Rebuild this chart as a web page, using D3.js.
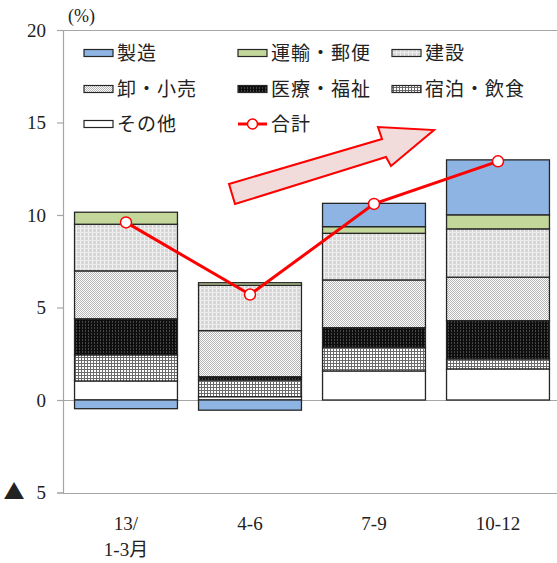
<!DOCTYPE html>
<html>
<head>
<meta charset="utf-8">
<script src="https://cdn.jsdelivr.net/npm/d3@7"></script>
<style>
  html, body { margin: 0; padding: 0; background: #fff; }
  svg { display: block; }
  text { font-family: "Liberation Serif", "Noto Sans CJK JP", serif; fill: #222; }
  .jp { font-family: "Noto Sans CJK JP", sans-serif; }
</style>
</head>
<body>
<svg id="chart" width="557" height="563"></svg>
<script>
// Quarterly contributions by industry (%pt), stacked bottom to top
const categories = ["13/|1-3月", "4-6", "7-9", "10-12"];
const seriesKeys = ["other", "lodging", "medical", "wholesale", "construction", "transport", "manufacturing"];
const seriesNames = ["その他", "宿泊・飲食", "医療・福祉", "卸・小売", "建設", "運輸・郵便", "製造"];
const other         = [1.03, 0.18, 1.57, 1.68];
const lodging       = [1.41, 0.90, 1.28, 0.54];
const medical       = [1.95, 0.18, 1.06, 2.07];
const wholesale     = [2.59, 2.49, 2.58, 2.35];
const construction  = [2.52, 2.45, 2.52, 2.61];
const transport     = [0.65, 0.14, 0.36, 0.76];
const manufacturing = [-0.47, -0.55, 1.26, 2.97];
const total         = [9.6, 5.7, 10.6, 12.9];
const yTicks = [-5, 0, 5, 10, 15, 20];
const yTickLabels = ["▲ 5", "0", "5", "10", "15", "20"];
const totalName = "合計";
const unitLabel = "(%)";

const seriesValues = { other, lodging, medical, wholesale, construction, transport, manufacturing };
const rows = categories.map((c, i) => {
  const r = { cat: c };
  seriesKeys.forEach(k => r[k] = seriesValues[k][i]);
  return r;
});

const fills = {
  manufacturing: "#8db4e2",
  transport: "#c4d79b",
  construction: "url(#p-construction)",
  wholesale: "url(#p-wholesale)",
  medical: "url(#p-medical)",
  lodging: "url(#p-lodging)",
  other: "#ffffff"
};

const svg = d3.select("#chart");
const defs = svg.append("defs");

function pattern(id, size, bg, marks) {
  const p = defs.append("pattern").attr("id", id)
    .attr("patternUnits", "userSpaceOnUse").attr("width", size).attr("height", size);
  p.append("rect").attr("width", size).attr("height", size).attr("fill", bg);
  marks.forEach(m => p.append("rect").attr("x", m[0]).attr("y", m[1])
    .attr("width", m[2]).attr("height", m[3]).attr("fill", m[4]));
}
pattern("p-construction", 4, "#d6d6d6", [[0, 0, 1, 4, "#f2f2f2"], [0, 0, 4, 1, "#ececec"]]);
pattern("p-wholesale", 2, "#ffffff", [[0, 0, 1, 1, "#b4b4b4"], [1, 1, 1, 1, "#b4b4b4"]]);
pattern("p-medical", 3, "#0e0e0e", [[1, 0, 1, 2, "#474747"]]);
pattern("p-lodging", 3, "#ffffff", [[0, 0, 1, 3, "#6a6a6a"], [0, 0, 3, 1, "#6a6a6a"]]);

const x = d3.scaleBand().domain(categories).range([64, 560]).paddingInner(0.17).paddingOuter(0.085);
const y = d3.scaleLinear().domain([-5, 20]).range([492.5, 30]);
const plotLeft = 63, plotRight = 557;

// horizontal reference lines at the bottom, zero and top
svg.append("g").selectAll("line").data([-5, 0, 20]).join("line")
  .attr("x1", plotLeft).attr("x2", plotRight)
  .attr("y1", d => Math.round(y(d)) + 0.5).attr("y2", d => Math.round(y(d)) + 0.5)
  .attr("stroke", "#a6a6a6").attr("stroke-width", 1.2);

// left axis
const axis = svg.append("g").attr("transform", `translate(${plotLeft},0)`)
  .call(d3.axisLeft(y).tickValues(yTicks).tickSize(6).tickPadding(11)
    .tickFormat((d, i) => yTickLabels[i]));
axis.select(".domain").attr("stroke", "#a6a6a6").attr("stroke-width", 1.2);
axis.selectAll(".tick line").attr("stroke", "#a6a6a6").attr("stroke-width", 1.2);
axis.selectAll(".tick text").attr("font-size", 19).attr("fill", "#222")
  .style("font-family", "'Liberation Serif', serif")
  .each(function (d, i) {
    const label = yTickLabels[i];
    const t = d3.select(this);
    if (label.includes(" ")) {
      const [sym, num] = label.split(" ");
      t.text(null);
      t.append("tspan").style("font-family", "'Noto Sans CJK JP', sans-serif")
        .attr("font-size", 21).text(sym);
      t.append("tspan").attr("dx", 12).text(num);
    }
  });

// stacked bars
const stack = d3.stack().keys(seriesKeys).offset(d3.stackOffsetDiverging);
const layers = stack(rows);
svg.append("g").selectAll("g").data(layers).join("g")
  .attr("fill", d => fills[d.key])
  .selectAll("rect").data(d => d).join("rect")
  .attr("x", d => x(d.data.cat))
  .attr("width", x.bandwidth())
  .attr("y", d => y(Math.max(d[0], d[1])))
  .attr("height", d => Math.abs(y(d[0]) - y(d[1])))
  .attr("stroke", "#262626").attr("stroke-width", 1.3);

// total line with markers
const pts = categories.map((c, i) => [x(c) + x.bandwidth() / 2, y(total[i])]);
svg.append("path").attr("d", d3.line()(pts)).attr("fill", "none")
  .attr("stroke", "#ff0000").attr("stroke-width", 3);
svg.append("g").selectAll("circle").data(pts).join("circle")
  .attr("cx", d => d[0]).attr("cy", d => d[1]).attr("r", 5.5)
  .attr("fill", "#fff").attr("stroke", "#ff0000").attr("stroke-width", 1.5);

// trend arrow
const arrowPts = [[229, 184], [382, 139], [378, 127], [434, 130], [391, 166], [386, 157], [235, 204]];
svg.append("path").attr("d", d3.line()(arrowPts) + "Z")
  .attr("fill", "#f2dcdb").attr("stroke", "#ff0000").attr("stroke-width", 2)
  .attr("stroke-linejoin", "miter");

// category labels
const xl = svg.append("g");
categories.forEach(c => {
  const lines = c.split("|");
  const t = xl.append("text").attr("text-anchor", "middle").attr("font-size", 19)
    .attr("x", x(c) + x.bandwidth() / 2).attr("y", 530);
  lines.forEach((ln, j) => t.append("tspan")
    .attr("x", x(c) + x.bandwidth() / 2).attr("dy", j === 0 ? 0 : 26).text(ln));
});

// unit label
svg.append("text").attr("x", 68).attr("y", 22).attr("font-size", 18).text(unitLabel);

// legend
const legendOrder = ["manufacturing", "transport", "construction", "wholesale", "medical", "lodging", "other", "total"];
const colX = [84, 238, 392];
const rowY = [53, 89, 124];
const lg = svg.append("g");
legendOrder.forEach((k, i) => {
  const cx = colX[i % 3], cy = rowY[Math.floor(i / 3)];
  const label = k === "total" ? totalName : seriesNames[seriesKeys.indexOf(k)];
  if (k === "total") {
    lg.append("line").attr("x1", cx).attr("x2", cx + 29).attr("y1", cy).attr("y2", cy)
      .attr("stroke", "#ff0000").attr("stroke-width", 3);
    lg.append("circle").attr("cx", cx + 14.5).attr("cy", cy).attr("r", 5)
      .attr("fill", "#fff").attr("stroke", "#ff0000").attr("stroke-width", 1.5);
  } else {
    lg.append("rect").attr("x", cx).attr("y", cy - 3.5).attr("width", 29).attr("height", 7)
      .attr("fill", fills[k]).attr("stroke", "#262626").attr("stroke-width", 1.2);
  }
  lg.append("text").attr("class", "jp").attr("x", cx + 33).attr("y", cy + 7)
    .attr("font-size", 19).attr("letter-spacing", 1).text(label);
});
</script>
</body>
</html>
